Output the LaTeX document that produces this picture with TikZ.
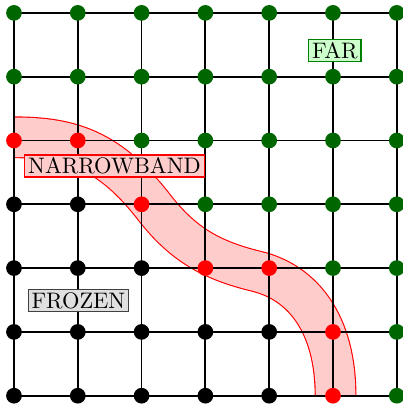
\documentclass[tikz,border=0pt]{standalone}
\colorlet{colK}{black}
\colorlet{colR}{red}
\colorlet{colG}{green!40!black}
\tikzset{
  dot/.style={circle, inner sep=0pt, minimum size=7pt, draw=none},
  gridline/.style={line width=0.8pt, black},
  band/.style={draw=red, line width=0.5pt, double=red!20, double distance=0.62cm},
  lab/.style={inner xsep=1.5pt, inner ysep=1.2pt, line width=0.5pt, font=\normalsize},
}
\begin{document}
\begin{tikzpicture}
\useasboundingbox (-0.219,-0.177) rectangle (6.082,6.202);
% coordinates of grid points
\foreach \i in {0,...,6}{\foreach \j in {0,...,6}{\coordinate (p-\i-\j) at (\i,\j);}}
% band
\coordinate (bandstart) at (0,4.05);
\coordinate (bandend) at (5.04,0);
\draw[band] (bandstart) .. controls (0.9,4.05) and (1.5,3.85) .. (2.2,2.95)
  .. controls (2.65,2.37) and (3.1,2.12) .. (3.8,1.95)
  .. controls (4.55,1.77) and (5.04,1.1) .. (bandend);
% grid
\foreach \k in {0,...,6}{
  \draw[gridline] (p-0-\k) -- (p-6-\k);
  \draw[gridline] (p-\k-0) -- (p-\k-6);
}
% dots
\foreach \row [count=\jj from 0] in {{K,K,K,K,K,R,G},{K,K,K,K,K,R,G},{K,K,K,R,R,G,G},{K,K,R,G,G,G,G},{R,R,G,G,G,G,G},{G,G,G,G,G,G,G},{G,G,G,G,G,G,G}}{
  \foreach \c [count=\ii from 0] in \row {
    \node[dot, fill=col\c] (d-\ii-\jj) at (p-\ii-\jj) {};
  }
}
% labels
\node[lab, fill=red!20, draw=red] (narrow) at (1.575,3.60) {NARROWBAND};
\node[lab, fill=black!12, draw=black!75] (frozen) at (1.01,1.49) {FROZEN};
\node[lab, fill=green!20, draw=green!50!black] (far) at (5.03,5.41) {FAR};
\end{tikzpicture}
\end{document}
